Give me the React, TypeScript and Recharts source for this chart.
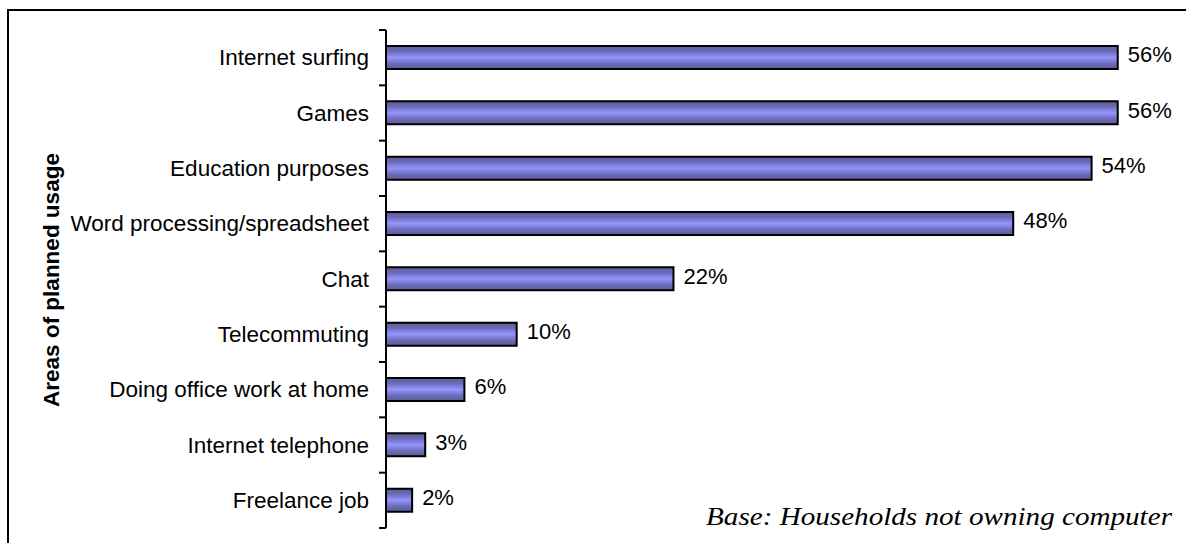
import { BarChart, Bar, XAxis, YAxis, LabelList } from "recharts";

const categories = [
  "Internet surfing",
  "Games",
  "Education purposes",
  "Word processing/spreadsheet",
  "Chat",
  "Telecommuting",
  "Doing office work at home",
  "Internet telephone",
  "Freelance job",
];
const shares = [56, 56, 54, 48, 22, 10, 6, 3, 2];

const data = categories.map((name, i) => ({ name, value: shares[i] }));

const W = 1186;
const H = 543;
const TOP = 30;
const BOTTOM = 15;
const AXIS_X = 386;
const BAND = (H - TOP - BOTTOM) / categories.length;
const SANS = "'Liberation Sans', Arial, sans-serif";

// category label + tick marks sitting on the band boundaries
function CategoryTick(props: any) {
  const { y, payload, index } = props;
  const top = y - BAND / 2;
  return (
    <g>
      <line x1={AXIS_X - 7} x2={AXIS_X} y1={top} y2={top} stroke="#000" strokeWidth={2} />
      {index === categories.length - 1 && (
        <line x1={AXIS_X - 7} x2={AXIS_X} y1={y + BAND / 2} y2={y + BAND / 2} stroke="#000" strokeWidth={2} />
      )}
      <text
        x={AXIS_X - 17}
        y={y}
        textAnchor="end"
        dominantBaseline="central"
        fontFamily={SANS}
        fontSize={22.5}
        fill="#000"
      >
        {payload.value}
      </text>
    </g>
  );
}

export default function App() {
  return (
    <div style={{ position: "absolute", left: 0, top: 0, width: W, height: H, background: "#fff", overflow: "hidden" }}>
      {/* outer frame */}
      <div
        style={{
          position: "absolute",
          left: 7,
          top: 9,
          width: W,
          height: H,
          borderLeft: "2px solid #000",
          borderTop: "2px solid #000",
        }}
      />

      <BarChart
        width={W}
        height={H}
        data={data}
        layout="vertical"
        margin={{ top: TOP, right: 16, bottom: BOTTOM, left: 0 }}
        barCategoryGap={0}
      >
        <defs>
          <linearGradient id="barStripes" x1="0" y1="0" x2="0" y2="1">
            <stop offset="0%" stopColor="#5c5c99" />
            <stop offset="22%" stopColor="#6a6ab4" />
            <stop offset="40%" stopColor="#8585e6" />
            <stop offset="50%" stopColor="#9595ff" />
            <stop offset="60%" stopColor="#8585e6" />
            <stop offset="78%" stopColor="#6a6ab4" />
            <stop offset="100%" stopColor="#5c5c99" />
          </linearGradient>
        </defs>
        <XAxis type="number" domain={[0, 60]} hide />
        <YAxis
          type="category"
          dataKey="name"
          width={AXIS_X}
          axisLine={{ stroke: "#000", strokeWidth: 2 }}
          tickLine={false}
          tick={<CategoryTick />}
          interval={0}
        />
        <Bar
          dataKey="value"
          barSize={23}
          fill="url(#barStripes)"
          stroke="#000"
          strokeWidth={2}
          isAnimationActive={false}
        >
          <LabelList
            dataKey="value"
            position="right"
            offset={10}
            formatter={(v: any) => `${v}%`}
            fill="#000"
            fontFamily={SANS}
            fontSize={22}
            dy={-3}
          />
        </Bar>
      </BarChart>

      {/* vertical axis title */}
      <div
        style={{
          position: "absolute",
          left: 52,
          top: 280,
          transform: "translate(-50%, -50%) rotate(-90deg)",
          whiteSpace: "nowrap",
          fontFamily: SANS,
          fontWeight: "bold",
          fontSize: 22.5,
        }}
      >
        Areas of planned usage
      </div>

      {/* base note */}
      <div
        style={{
          position: "absolute",
          right: 14,
          top: 502,
          whiteSpace: "nowrap",
          fontFamily: "'Liberation Serif', 'Times New Roman', serif",
          fontStyle: "italic",
          fontSize: 26,
          transform: "scaleX(1.12)",
          transformOrigin: "right center",
        }}
      >
        Base: Households not owning computer
      </div>
    </div>
  );
}
